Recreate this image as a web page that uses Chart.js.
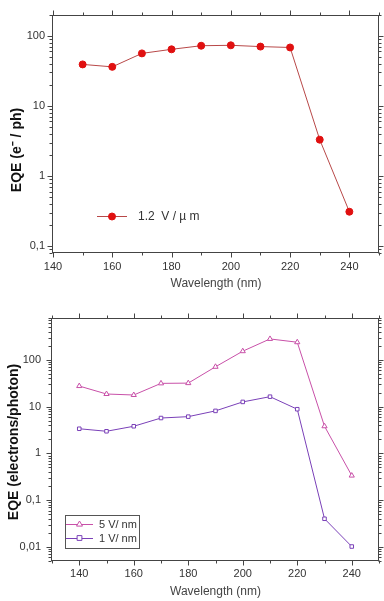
<!DOCTYPE html>
<html>
<head>
<meta charset="utf-8">
<script src="https://cdn.jsdelivr.net/npm/chart.js@4/dist/chart.umd.min.js"></script>
<style>
  html, body { margin: 0; padding: 0; background: #fff; }
  #wrap { position: relative; width: 384px; height: 601px; overflow: hidden; }
  canvas { position: absolute; left: 0; }
  #c1 { top: 0; }
  #c2 { top: 300px; }
</style>
</head>
<body>
<div id="wrap">
  <canvas id="c1" width="384" height="300"></canvas>
  <canvas id="c2" width="384" height="301"></canvas>
</div>
<script>
// ---------- Data (top chart) ----------
const topWavelengths = [150, 160, 170, 180, 190, 200, 210, 220, 230, 240];
const topEQE = [39, 36, 56, 64, 72, 73, 70, 68, 3.3, 0.31];
const topSeriesLabel = '1.2  V / \u00b5 m';
const topXTicks = [140, 160, 180, 200, 220, 240];
const topYTicks = [0.1, 1, 10, 100];
const topYTickLabels = ['0,1', '1', '10', '100'];

// ---------- Data (bottom chart) ----------
const botWavelengths = [140, 150, 160, 170, 180, 190, 200, 210, 220, 230, 240];
const eqe5V = [27.5, 18.6, 17.7, 31.4, 31.8, 71, 153, 280, 238, 3.8, 0.335];
const eqe1V = [3.36, 2.97, 3.8, 5.7, 6.1, 8.1, 12.6, 16.3, 8.8, 0.040, 0.0102];
const botSeriesLabels = ['5 V/ nm', '1 V/ nm'];
const botXTicks = [140, 160, 180, 200, 220, 240];
const botYTicks = [0.01, 0.1, 1, 10, 100];
const botYTickLabels = ['0,01', '0,1', '1', '10', '100'];

const FONT = '"Liberation Sans", Arial, sans-serif';
Chart.defaults.font.family = FONT;

function toPoints(xs, ys) { return xs.map((x, i) => ({ x: x, y: ys[i] })); }

// Frame + tick marks (outward) on all four sides, using the chart scales
const frameTicks = {
  id: 'frameTicks',
  afterDraw(chart, args, o) {
    const { ctx, chartArea: a, scales: { x, y } } = chart;
    ctx.save();
    ctx.strokeStyle = '#444';
    ctx.lineWidth = 1;
    const L = Math.round(a.left) - 0.5, R = Math.round(a.right) - 0.5;
    const T = Math.round(a.top) + 0.5, B = Math.round(a.bottom) - 0.5;
    ctx.strokeRect(L, T, R - L, B - T);
    ctx.beginPath();
    // x ticks
    for (let v = o.xMin; v <= o.xMax + 0.001; v += 10) {
      const major = ((v - o.xMajorStart) % 20 + 20) % 20 === 0;
      const len = major ? 5 : 3;
      const px = Math.round(x.getPixelForValue(v)) + 0.5;
      ctx.moveTo(px, B); ctx.lineTo(px, B + len);
      ctx.moveTo(px, T); ctx.lineTo(px, T - len);
    }
    // y log ticks
    for (let e = -4; e <= 4; e++) {
      for (let k = 1; k <= 9; k++) {
        const v = k * Math.pow(10, e);
        if (v < y.min * 0.999 || v > y.max * 1.001) continue;
        const len = k === 1 ? 5 : 3;
        const py = Math.round(y.getPixelForValue(v)) + 0.5;
        ctx.moveTo(L, py); ctx.lineTo(L - len, py);
        ctx.moveTo(R, py); ctx.lineTo(R + len, py);
      }
    }
    ctx.stroke();
    // rotated y title
    ctx.fillStyle = '#111';
    ctx.font = 'bold 14px ' + FONT;
    ctx.textAlign = 'center';
    ctx.textBaseline = 'middle';
    ctx.translate(o.titleX, o.titleY);
    ctx.rotate(-Math.PI / 2);
    ctx.fillText(o.title, 0, 0);
    ctx.restore();
  }
};

// Legend drawn from the dataset styles
const innerLegend = {
  id: 'innerLegend',
  afterDraw(chart, args, o) {
    const ctx = chart.ctx;
    ctx.save();
    if (o.box) {
      ctx.strokeStyle = '#555';
      ctx.lineWidth = 1;
      ctx.strokeRect(o.box[0] + 0.5, o.box[1] + 0.5, o.box[2], o.box[3]);
    }
    chart.data.datasets.forEach((ds, i) => {
      const yy = o.y0 + i * o.dy;
      ctx.strokeStyle = ds.borderColor;
      ctx.lineWidth = 1;
      ctx.beginPath();
      ctx.moveTo(o.x0, yy + 0.5); ctx.lineTo(o.x1, yy + 0.5);
      ctx.stroke();
      const mx = (o.x0 + o.x1) / 2;
      ctx.fillStyle = ds.pointBackgroundColor;
      ctx.strokeStyle = ds.pointBorderColor;
      ctx.lineWidth = ds.pointBorderWidth || 1;
      const r = o.r;
      ctx.beginPath();
      if (ds.pointStyle === 'triangle') {
        ctx.moveTo(mx, yy - r); ctx.lineTo(mx + r, yy + r * 0.7); ctx.lineTo(mx - r, yy + r * 0.7); ctx.closePath();
      } else if (ds.pointStyle === 'rect') {
        ctx.rect(mx - r * 0.8, yy - r * 0.8, r * 1.6, r * 1.6);
      } else {
        ctx.arc(mx, yy + 0.5, r, 0, Math.PI * 2);
      }
      ctx.fill(); ctx.stroke();
      ctx.fillStyle = '#333';
      ctx.font = o.fontSize + 'px ' + FONT;
      ctx.textAlign = 'left';
      ctx.textBaseline = 'middle';
      ctx.fillText(ds.label, o.tx, yy + 1);
    });
    ctx.restore();
  }
};

function xScale(min, max, tickVals, height, pad, titlePad) {
  return {
    type: 'linear', min: min, max: max,
    afterFit: s => { s.height = height; },
    afterBuildTicks: s => { s.ticks = tickVals.map(v => ({ value: v })); },
    ticks: { autoSkip: false, maxRotation: 0, padding: pad, color: '#333', font: { size: 11 },
             callback: v => String(v) },
    grid: { display: false, drawTicks: false },
    border: { display: false },
    title: { display: true, text: 'Wavelength (nm)', color: '#444', font: { size: 12 },
             padding: { top: 0, bottom: titlePad } }
  };
}
function yScale(min, max, tickVals, tickLabels, width, pad) {
  return {
    type: 'logarithmic', min: min, max: max,
    afterFit: s => { s.width = width; },
    afterBuildTicks: s => { s.ticks = tickVals.map(v => ({ value: v })); },
    ticks: { autoSkip: false, padding: pad, color: '#333', font: { size: 11 },
             callback: (v) => { const i = tickVals.findIndex(t => Math.abs(t - v) / t < 1e-6); return i >= 0 ? tickLabels[i] : ''; } },
    grid: { display: false, drawTicks: false },
    border: { display: false }
  };
}

new Chart(document.getElementById('c1'), {
  type: 'line',
  data: {
    datasets: [{
      label: topSeriesLabel,
      data: toPoints(topWavelengths, topEQE),
      borderColor: '#b84848', borderWidth: 1,
      pointRadius: 3.5, pointStyle: 'circle',
      pointBackgroundColor: '#e01010', pointBorderColor: '#e01010', pointBorderWidth: 1,
      tension: 0
    }]
  },
  options: {
    responsive: false, animation: false, devicePixelRatio: 1,
    layout: { padding: { top: 10, right: 1, left: 0, bottom: 0 } },
    plugins: {
      legend: { display: false }, tooltip: { enabled: false },
      frameTicks: { xMin: 140, xMax: 250, xMajorStart: 140, title: 'EQE (e\u207b / ph)', titleX: 17, titleY: 150 },
      innerLegend: { x0: 97, x1: 127, y0: 216, dy: 0, tx: 138, r: 3.5, fontSize: 12 }
    },
    scales: {
      x: xScale(140, 250, topXTicks, 47, 7, 9),
      y: yScale(0.08, 200, topYTicks, topYTickLabels, 53, 8)
    }
  },
  plugins: [frameTicks, innerLegend]
});

new Chart(document.getElementById('c2'), {
  type: 'line',
  data: {
    datasets: [{
      label: botSeriesLabels[0],
      data: toPoints(botWavelengths, eqe5V),
      borderColor: '#c850a8', borderWidth: 1,
      pointRadius: 3, pointStyle: 'triangle',
      pointBackgroundColor: '#ffffff', pointBorderColor: '#c850a8', pointBorderWidth: 1,
      tension: 0
    }, {
      label: botSeriesLabels[1],
      data: toPoints(botWavelengths, eqe1V),
      borderColor: '#7a40b8', borderWidth: 1,
      pointRadius: 2.5, pointStyle: 'rect',
      pointBackgroundColor: '#ffffff', pointBorderColor: '#7a40b8', pointBorderWidth: 1,
      tension: 0
    }]
  },
  options: {
    responsive: false, animation: false, devicePixelRatio: 1,
    layout: { padding: { top: 16, right: 3, left: 0, bottom: 0 } },
    plugins: {
      legend: { display: false }, tooltip: { enabled: false },
      frameTicks: { xMin: 130, xMax: 250, xMajorStart: 140, title: 'EQE (electrons/photon)', titleX: 14, titleY: 142 },
      innerLegend: { box: [65, 215, 74, 33], x0: 66, x1: 93, y0: 224, dy: 14, tx: 99, r: 3, fontSize: 11 }
    },
    scales: {
      x: xScale(130, 250, botXTicks, 40, 6, 2),
      y: yScale(0.005, 800, botYTicks, botYTickLabels, 52, 11)
    }
  },
  plugins: [frameTicks, innerLegend]
});
</script>
</body>
</html>
